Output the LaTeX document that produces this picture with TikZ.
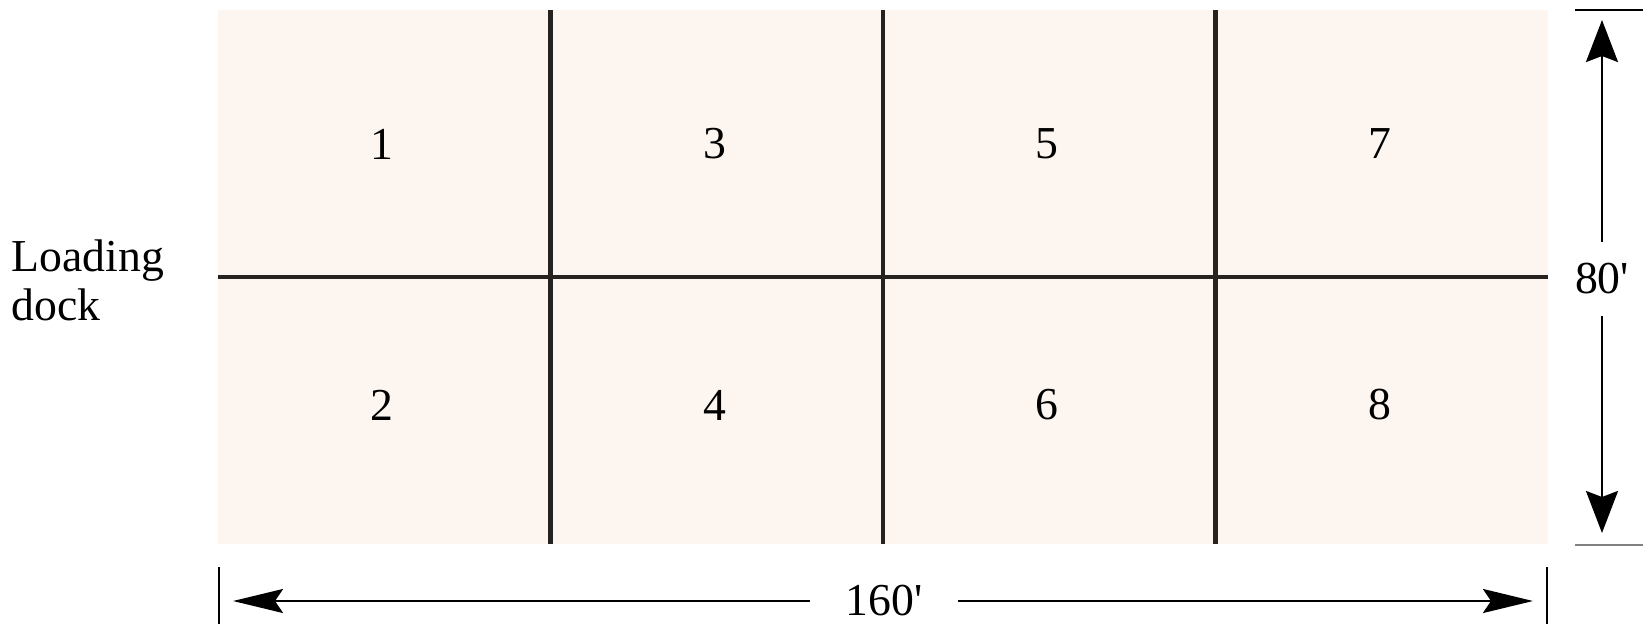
\documentclass[tikz,border=0pt]{standalone}
\usepackage{fontspec}
\setmainfont{Liberation Serif}
\newfontfamily\fonteplanta{Liberation Serif}
\usepackage{xcolor}
\usetikzlibrary{arrows.meta, positioning}
\definecolor{piso}{RGB}{253,246,240}
\definecolor{parede}{RGB}{38,34,32}

\begin{document}
\begin{tikzpicture}[x=0.01cm, y=-0.01cm,
  font=\fonteplanta\fontsize{13}{14}\selectfont,
  divisa/.style={parede, line width=1.3pt},
  cotav/.style={line width=0.6pt, -{Stealth[length=4.2mm, width=3.2mm, inset=0.6mm]}},
  cotah/.style={line width=0.6pt, -{Stealth[length=5mm, width=2.4mm, inset=0.8mm]}},
  marca/.style={line width=0.6pt},
  medida/.style={inner xsep=10pt, inner ysep=6pt}]

\useasboundingbox (0,0) rectangle (1650,624);

% Area do armazem
\fill[piso] (218,10) rectangle (1548,544);

% Divisorias
\foreach \x in {550.5,883,1215.5}
  \draw[divisa] (\x,10) -- (\x,544);
\draw[divisa] (218,277) -- (1548,277);

% Numeros dos setores
\foreach \i in {0,...,3}{
  \pgfmathtruncatemacro{\a}{2*\i+1}
  \pgfmathtruncatemacro{\b}{2*\i+2}
  \node (n\a) at (382+332.5*\i,144) {\a};
  \node (n\b) at (382+332.5*\i,405) {\b};
}

% Doca
\node[anchor=west, align=left, inner sep=0pt] (doca) at (11,280) {Loading\\dock};

% Cota vertical (80')
\node[medida] (c80) at (1602,279) {80\textquotesingle};
\coordinate (c80a) at (1602,20);
\coordinate (c80b) at (1602,533);
\draw[cotav] (c80) -- (c80a);
\draw[cotav] (c80) -- (c80b);
\draw[marca] (1575,10) -- (1643,10);
\draw[marca, gray] (1575,545) -- (1643,545);

% Cota horizontal (160')
\node[medida] (c160) at (884,601) {160\textquotesingle};
\coordinate (c160a) at (233,601);
\coordinate (c160b) at (1533,601);
\draw[cotah] (c160) -- (c160a);
\draw[cotah] (c160) -- (c160b);
\draw[marca] (219,567) -- (219,624);
\draw[marca] (1547,567) -- (1547,624);

\end{tikzpicture}
\end{document}
